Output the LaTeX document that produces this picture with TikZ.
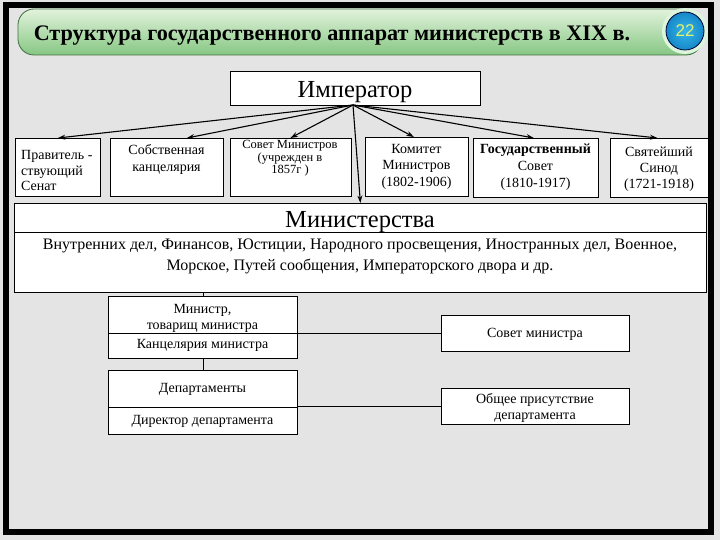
\documentclass[tikz,border=0pt]{standalone}
\usepackage{fontspec}
\setmainfont{Liberation Serif}
\newfontfamily\numfont{Liberation Sans}
\usetikzlibrary{arrows.meta,calc}
\definecolor{bg}{HTML}{E4E4E4}
\definecolor{bantop}{HTML}{E2F3DC}
\definecolor{banbot}{HTML}{86C683}
\definecolor{banline}{HTML}{3F6F3F}
\definecolor{ballin}{HTML}{35B6EA}
\definecolor{ballout}{HTML}{1688C8}
\definecolor{numcol}{HTML}{E6F26A}
\begin{document}
\begin{tikzpicture}[x=1pt,y=-1pt,
  box/.style={draw, fill=white, line width=0.8pt, inner sep=0pt, anchor=north west},
  txt/.style={inner sep=0pt, align=center, font=\fontsize{14}{17}\selectfont},
  conn/.style={-{Stealth[length=7.5pt,width=5pt]}, line width=1.1pt},
  link/.style={line width=0.8pt}]
\useasboundingbox (0,0) rectangle (720,540);
\fill[bg] (0,0) rectangle (720,540);
\draw[line width=6pt] (6,5) rectangle (711,532);
% title banner
\shade[top color=bantop, bottom color=banbot, draw=banline, line width=0.8pt, rounded corners=16pt] (18,9) rectangle (702,55);
\fill[white!85!green!60!bg] (685,31) circle (23);
\shade[inner color=ballin, outer color=ballout, draw=black!80!blue, line width=0.8pt] (685,31) circle (19);
\node[inner sep=0pt, text=numcol, font=\numfont\fontsize{17}{17}\selectfont] (num) at (685,31) {22};
\node[inner sep=0pt, anchor=base, font=\bfseries\fontsize{22.2}{22}\selectfont] (title) at (332,41) {Структура государственного аппарат министерств в XIX в.};
% emperor
\node[box, minimum width=250pt, minimum height=34pt] (imp) at (230,71) {};
\node[inner sep=0pt, anchor=base, font=\fontsize{24.5}{24}\selectfont] (impt) at (355,98) {Император};
% row of boxes
\node[box, minimum width=85pt, minimum height=58pt] (b1) at (15,138) {};
\node[txt, align=left, anchor=west, font=\fontsize{14}{15.5}\selectfont] (b1t) at (21,170.5) {Правитель -\\ствующий\\Сенат};
\node[box, minimum width=113pt, minimum height=58pt] (b2) at (110,138) {};
\node[txt] (b2t) at (166.5,159.5) {Собственная\\канцелярия};
\node[box, minimum width=121pt, minimum height=58pt] (b3) at (229.5,138) {};
\node[txt, font=\fontsize{12.5}{10.5}\selectfont] (b3t) at (290,158.5) {Совет Министров\\(учрежден в\\1857г )};
\node[box, minimum width=103pt, minimum height=59pt] (b4) at (365,137) {};
\node[txt, font=\fontsize{14}{16.5}\selectfont] (b4t) at (416.5,166.5) {Комитет\\Министров\\(1802-1906)};
\node[box, minimum width=125pt, minimum height=59pt] (b5) at (473,138) {};
\node[txt, font=\fontsize{14}{17}\selectfont] (b5t) at (535.5,167.5) {\textbf{Государственный}\\Совет\\(1810-1917)};
\node[box, minimum width=98pt, minimum height=59pt] (b6) at (610,138) {};
\node[txt, font=\fontsize{14}{16}\selectfont] (b6t) at (659,169) {Святейший\\Синод\\(1721-1918)};
% ministries
\node[box, minimum width=692pt, minimum height=89pt] (min) at (14,203) {};
\draw[link] (14,232) -- (706,232);
\node[inner sep=0pt, anchor=base, font=\fontsize{24.5}{24}\selectfont] (mint) at (360,227) {Министерства};
\node[txt, font=\fontsize{16}{21}\selectfont] (minb) at (360,256) {Внутренних дел, Финансов, Юстиции, Народного просвещения, Иностранных дел, Военное,\\Морское, Путей сообщения, Императорского двора и др.};
% arrows from emperor
\coordinate (o) at (353,105);
\draw[conn] (o) -- (b1.north);
\draw[conn] (o) -- ([xshift=20pt]b2.north);
\draw[conn] (o) -- (b3.north);
\draw[conn] (o) -- (min.north);
\draw[conn] (o) -- ([xshift=-3pt]b4.north);
\draw[conn] (o) -- ([xshift=-2pt]b5.north);
\draw[conn] (o) -- ([xshift=-2pt]b6.north);
% lower part
\node[box, minimum width=189pt, minimum height=62pt] (mb) at (108,296) {};
\draw[link] (108,333) -- (297,333);
\node[txt, font=\fontsize{14}{16}\selectfont] (mbt) at (202.5,318) {Министр,\\товарищ министра};
\node[txt] (mbk) at (202.5,345) {Канцелярия министра};
\node[box, minimum width=189pt, minimum height=64pt] (db) at (108,370) {};
\draw[link] (108,407) -- (297,407);
\node[txt] (dbt) at (202.5,389) {Департаменты};
\node[txt] (dbd) at (202.5,421) {Директор департамента};
\node[box, minimum width=188pt, minimum height=36pt] (sm) at (441,315) {};
\node[txt] (smt) at (535,334) {Совет министра};
\node[box, minimum width=188pt, minimum height=36pt] (ob) at (441,388) {};
\node[txt, font=\fontsize{14}{16}\selectfont] (obt) at (535,408) {Общее присутствие\\департамента};
\draw[link] (min.south -| mb.north) -- (mb.north);
\draw[link] (mb.south) -- (db.north);
\draw[link] (mb.east |- sm.west) -- (sm.west);
\draw[link] (db.east |- ob.west) -- (ob.west);
\end{tikzpicture}
\end{document}
